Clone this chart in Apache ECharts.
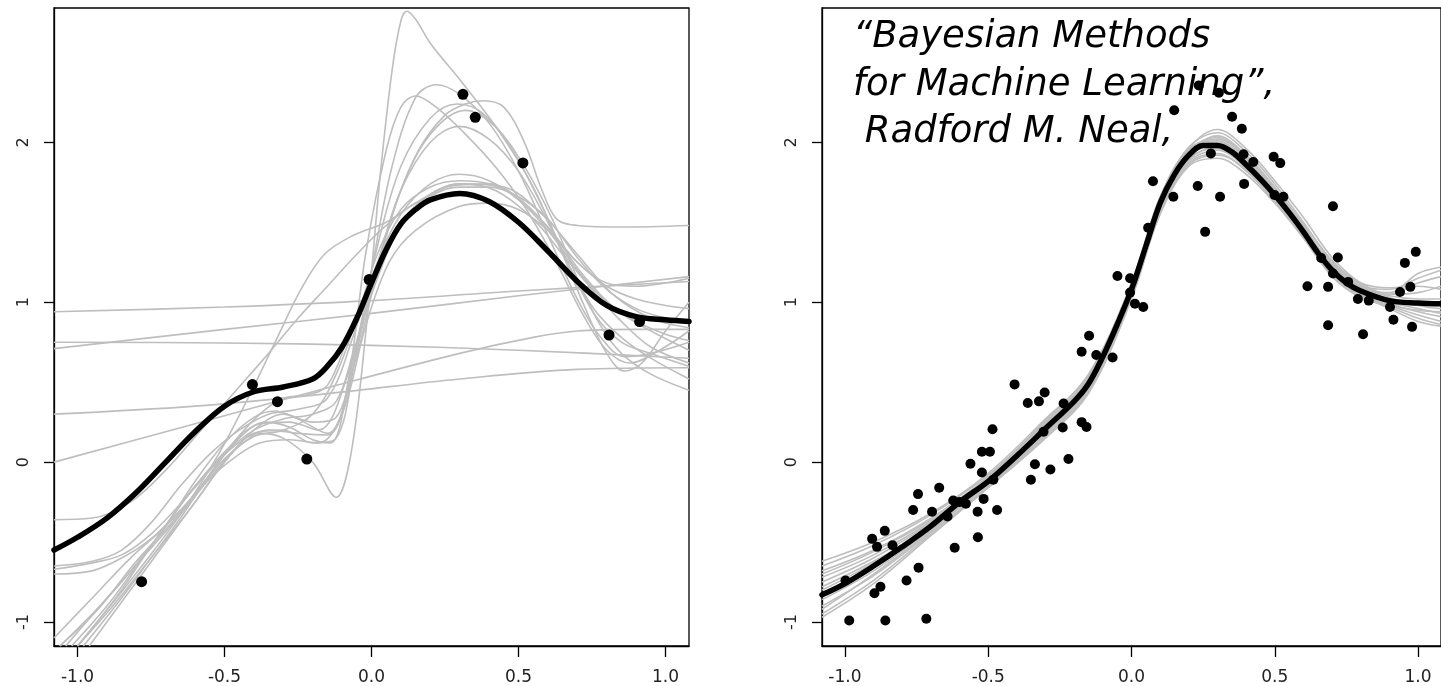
<!DOCTYPE html>
<html><head><meta charset="utf-8">
<script src="https://cdn.jsdelivr.net/npm/echarts@6.0.0/dist/echarts.min.js"></script>
<style>html,body{margin:0;padding:0;background:#fff;overflow:hidden}#c{width:1441px;height:686px}</style>
</head><body><div id="c"></div><script>
// ---------- tick labels ----------
const xTicks = [-1, -0.5, 0, 0.5, 1];
const yTicks = [-1, 0, 1, 2];

// ---------- left panel: data points ----------
const leftPoints = [[-0.782,-0.748],[-0.405,0.485],[-0.320,0.378],[-0.220,0.019],[-0.008,1.142],
  [0.311,2.30],[0.353,2.156],[0.515,1.871],[0.808,0.795],[0.912,0.879]];

// left panel: posterior mean (thick black)
const leftMean = [[-1.08,-0.55],[-1.0,-0.47],[-0.9,-0.35],[-0.8,-0.19],[-0.7,0.0],[-0.6,0.19],[-0.5,0.35],
  [-0.4,0.44],[-0.3,0.47],[-0.2,0.52],[-0.15,0.6],[-0.1,0.72],[-0.05,0.9],[0.0,1.12],[0.05,1.33],[0.1,1.49],
  [0.15,1.58],[0.2,1.64],[0.3,1.68],[0.4,1.63],[0.5,1.5],[0.6,1.32],[0.7,1.13],[0.8,0.98],[0.9,0.91],[1.0,0.89],[1.08,0.88]];

// left panel: posterior sample functions (grey)
const lS1 = [[-1.08,0.94],[-0.5,0.97],[0,1.01],[0.5,1.07],[1.08,1.13]];
const lS2 = [[-1.08,0.71],[-0.5,0.83],[0,0.93],[0.5,1.04],[1.08,1.16]];
const lS3 = [[-1.08,0.75],[-0.5,0.745],[0,0.73],[0.5,0.70],[1.08,0.65]];
const lS4 = [[-1.08,0.30],[-0.6,0.35],[-0.14,0.43],[0.3,0.52],[0.7,0.58],[1.08,0.59]];
const lS5 = [[-1.08,0.0],[-0.6,0.24],[-0.14,0.47],[0.3,0.68],[0.55,0.78],[0.7,0.82],[0.9,0.83],[1.08,0.83]];
const lU1 = [[-1.02,-1.15],[-0.9,-0.9],[-0.8,-0.65],[-0.7,-0.4],[-0.6,-0.12],[-0.5,0.12],[-0.4,0.28],[-0.33,0.32],[-0.25,0.27],[-0.15,0.18],[-0.08,0.45],[0,1.2],[0.07,1.85],[0.15,2.28],[0.22,2.36],[0.3,2.3],[0.4,2.12],[0.5,1.82],[0.6,1.42],[0.7,1.02],[0.78,0.78],[0.86,0.66],[0.95,0.68],[1.08,0.75]];
const lU2 = [[-0.98,-1.15],[-0.85,-0.85],[-0.75,-0.6],[-0.65,-0.35],[-0.55,-0.08],[-0.45,0.15],[-0.36,0.25],[-0.28,0.22],[-0.2,0.14],[-0.14,0.12],[-0.08,0.5],[-0.02,1.3],[0.05,1.95],[0.1,2.22],[0.15,2.29],[0.22,2.22],[0.32,2.05],[0.42,1.85],[0.52,1.6],[0.62,1.28],[0.72,0.92],[0.8,0.7],[0.88,0.62],[0.98,0.7],[1.08,0.82]];
const lU3 = [[-1.06,-1.15],[-0.95,-0.95],[-0.85,-0.75],[-0.72,-0.45],[-0.6,-0.15],[-0.48,0.1],[-0.38,0.24],[-0.28,0.25],[-0.18,0.2],[-0.08,0.55],[0,1.1],[0.08,1.6],[0.16,1.95],[0.25,2.17],[0.32,2.24],[0.38,2.26],[0.45,2.22],[0.52,2.0],[0.58,1.7],[0.63,1.52],[0.7,1.48],[0.85,1.47],[1.08,1.48]];
const lU4 = [[-1.0,-1.15],[-0.88,-0.9],[-0.75,-0.6],[-0.62,-0.3],[-0.5,0.0],[-0.4,0.2],[-0.3,0.3],[-0.2,0.25],[-0.12,0.28],[-0.05,0.75],[0.02,1.35],[0.1,1.85],[0.2,2.15],[0.29,2.24],[0.38,2.18],[0.48,1.95],[0.58,1.6],[0.68,1.2],[0.76,0.92],[0.85,0.75],[0.95,0.68],[1.08,0.6]];
const lU5 = [[-1.04,-1.15],[-0.9,-0.85],[-0.78,-0.6],[-0.66,-0.35],[-0.55,-0.1],[-0.45,0.1],[-0.35,0.2],[-0.25,0.18],[-0.15,0.17],[-0.06,0.6],[0.02,1.2],[0.1,1.7],[0.2,2.05],[0.32,2.2],[0.42,2.1],[0.52,1.85],[0.62,1.5],[0.7,1.15],[0.78,0.85],[0.85,0.68],[0.95,0.55],[1.08,0.45]];
const lU6 = [[-0.96,-1.15],[-0.84,-0.85],[-0.72,-0.55],[-0.6,-0.25],[-0.5,0.0],[-0.4,0.18],[-0.3,0.2],[-0.2,0.12],[-0.12,0.15],[-0.05,0.7],[0.03,1.3],[0.1,1.7],[0.2,2.0],[0.3,2.1],[0.4,2.02],[0.5,1.82],[0.6,1.5],[0.68,1.2],[0.76,0.95],[0.85,0.78],[0.95,0.65],[1.08,0.52]];
const lSpike = [[-1.0,-1.15],[-0.87,-0.85],[-0.74,-0.5],[-0.6,-0.15],[-0.48,0.08],[-0.38,0.18],[-0.3,0.15],[-0.2,0.0],[-0.12,-0.22],[-0.07,0.05],[-0.02,0.8],[0.03,1.8],[0.07,2.45],[0.1,2.76],[0.12,2.82],[0.15,2.77],[0.2,2.62],[0.31,2.37],[0.43,2.08],[0.55,1.72],[0.65,1.3],[0.73,0.95],[0.8,0.68],[0.86,0.57],[0.92,0.62],[1.0,0.82],[1.08,1.0]];
const lE1 = [[-1.08,-0.36],[-0.95,-0.35],[-0.82,-0.25],[-0.7,-0.05],[-0.58,0.2],[-0.46,0.45],[-0.35,0.68],[-0.25,0.9],[-0.15,1.1],[-0.05,1.3],[0.05,1.48],[0.15,1.62],[0.3,1.74],[0.45,1.72],[0.58,1.55],[0.7,1.3],[0.82,1.05],[0.95,0.9],[1.08,0.84]];
const lE2 = [[-1.0,-1.15],[-0.88,-0.88],[-0.76,-0.6],[-0.64,-0.3],[-0.52,0.05],[-0.42,0.4],[-0.32,0.78],[-0.24,1.08],[-0.16,1.3],[-0.06,1.42],[0.05,1.5],[0.15,1.62],[0.28,1.73],[0.4,1.74],[0.52,1.62],[0.62,1.42],[0.72,1.17],[0.85,0.93],[1.08,0.7]];
const lL2 = [[-1.08,-0.65],[-0.95,-0.62],[-0.85,-0.55],[-0.75,-0.38],[-0.65,-0.15],[-0.55,0.05],[-0.45,0.2],[-0.35,0.3],[-0.25,0.33],[-0.15,0.4],[-0.06,0.8],[0.02,1.25],[0.1,1.55],[0.2,1.74],[0.3,1.8],[0.4,1.76],[0.5,1.64],[0.6,1.45],[0.7,1.2],[0.8,1.0],[0.9,0.88],[1.0,0.8],[1.08,0.76]];
const lL3 = [[-1.08,-0.67],[-0.95,-0.63],[-0.85,-0.58],[-0.75,-0.45],[-0.62,-0.2],[-0.5,0.05],[-0.4,0.2],[-0.3,0.27],[-0.2,0.3],[-0.12,0.38],[-0.06,0.7],[0.02,1.15],[0.1,1.48],[0.2,1.66],[0.3,1.72],[0.4,1.72],[0.5,1.66],[0.6,1.52],[0.7,1.28],[0.8,1.08],[0.9,0.96],[1.0,0.9],[1.08,0.87]];
const lL4 = [[-1.08,-0.70],[-0.95,-0.68],[-0.85,-0.6],[-0.75,-0.48],[-0.65,-0.3],[-0.55,-0.1],[-0.45,0.05],[-0.38,0.12],[-0.28,0.14],[-0.18,0.12],[-0.1,0.3],[-0.02,0.85],[0.06,1.25],[0.15,1.45],[0.3,1.6],[0.4,1.62],[0.5,1.58],[0.6,1.45],[0.7,1.25],[0.8,1.1],[0.9,1.02],[1.0,0.98],[1.08,0.96]];
const lL5 = [[-1.08,-1.1],[-0.95,-0.85],[-0.82,-0.6],[-0.7,-0.4],[-0.6,-0.2],[-0.5,0.02],[-0.4,0.16],[-0.3,0.2],[-0.2,0.3],[-0.12,0.55],[-0.05,0.9],[0.02,1.3],[0.1,1.58],[0.2,1.72],[0.3,1.76],[0.4,1.74],[0.5,1.65],[0.6,1.47],[0.7,1.25],[0.8,1.12],[0.9,1.1],[1.0,1.12],[1.08,1.15]];
const lL6 = [[-1.06,-1.15],[-0.93,-0.92],[-0.8,-0.62],[-0.68,-0.38],[-0.58,-0.15],[-0.48,0.1],[-0.38,0.3],[-0.3,0.4],[-0.22,0.42],[-0.15,0.48],[-0.08,0.78],[0.0,1.15],[0.08,1.45],[0.18,1.65],[0.3,1.74],[0.42,1.7],[0.55,1.52],[0.65,1.3],[0.75,1.08],[0.85,0.88],[0.95,0.72],[1.08,0.62]];
const leftSamples = [lS1,lS2,lS3,lS4,lS5,lU1,lU2,lU3,lU4,lU5,lU6,lSpike,lE1,lE2,lL2,lL3,lL4,lL5,lL6];

// ---------- right panel ----------
const rightPoints = [
  [-0.985,-0.99],[-0.859,-0.99],[-0.716,-0.98],[-0.998,-0.74],[-0.897,-0.82],[-0.876,-0.78],[-0.785,-0.74],[-0.743,-0.66],
  [-0.905,-0.48],[-0.888,-0.53],[-0.861,-0.43],[-0.834,-0.52],[-0.762,-0.30],[-0.745,-0.20],[-0.696,-0.31],[-0.671,-0.16],
  [-0.617,-0.535],[-0.622,-0.24],[-0.600,-0.25],[-0.578,-0.26],[-0.642,-0.34],[-0.536,-0.47],[-0.537,-0.31],[-0.469,-0.30],
  [-0.516,-0.23],[-0.562,-0.01],[-0.522,0.065],[-0.494,0.065],[-0.522,-0.065],[-0.482,-0.11],[-0.485,0.206],
  [-0.408,0.486],[-0.362,0.37],[-0.323,0.38],[-0.303,0.435],[-0.337,-0.013],[-0.351,-0.11],[-0.283,-0.046],[-0.307,0.19],
  [-0.24,0.217],[-0.237,0.367],[-0.22,0.02],[-0.174,0.25],[-0.157,0.22],[-0.174,0.69],[-0.148,0.79],[-0.123,0.67],[-0.066,0.654],
  [-0.049,1.164],[-0.005,1.15],[-0.005,1.06],[0.012,0.99],[0.041,0.97],[0.058,1.466],[0.075,1.756],[0.146,1.66],[0.149,2.2],
  [0.231,1.727],[0.257,1.44],[0.235,2.356],[0.305,2.31],[0.277,1.93],[0.309,1.66],[0.351,2.16],[0.385,2.085],[0.391,1.925],
  [0.393,1.74],[0.425,1.877],[0.496,1.91],[0.519,1.87],[0.499,1.67],[0.53,1.66],[0.703,1.6],[0.614,1.10],[0.686,1.096],
  [0.686,0.856],[0.662,1.277],[0.72,1.28],[0.703,1.18],[0.756,1.127],[0.79,1.02],[0.828,1.01],[0.808,0.80],[0.902,0.97],
  [0.914,0.89],[0.937,1.064],[0.954,1.246],[0.973,1.096],[0.992,1.315],[0.979,0.846]];

const rightMean = [[-1.08,-0.83],[-1.0,-0.76],[-0.9,-0.65],[-0.8,-0.53],[-0.7,-0.40],[-0.6,-0.25],[-0.5,-0.12],[-0.4,0.04],
  [-0.3,0.21],[-0.2,0.38],[-0.15,0.49],[-0.1,0.66],[-0.05,0.86],[0,1.08],[0.05,1.35],[0.1,1.62],[0.15,1.80],[0.2,1.92],
  [0.25,1.98],[0.3,1.98],[0.35,1.94],[0.4,1.86],[0.45,1.77],[0.5,1.67],[0.55,1.56],[0.6,1.44],[0.65,1.31],[0.7,1.20],
  [0.75,1.12],[0.8,1.07],[0.9,1.01],[1.0,0.995],[1.08,0.99]];

const rightSampleX = [-1.08,-0.9,-0.7,-0.5,-0.3,-0.15,0,0.1,0.2,0.3,0.4,0.5,0.6,0.7,0.8,0.9,1.0,1.08];
const r1  = [-0.65,-0.52,-0.33,-0.08,0.24,0.52,1.10,1.65,1.97,2.06,1.94,1.74,1.50,1.25,1.10,1.04,1.02,1.02];
const r2  = [-0.70,-0.56,-0.36,-0.10,0.23,0.50,1.07,1.60,1.93,2.04,1.92,1.72,1.48,1.22,1.08,1.05,1.12,1.16];
const r3  = [-0.75,-0.60,-0.38,-0.11,0.22,0.51,1.09,1.63,1.95,2.02,1.90,1.70,1.46,1.23,1.10,1.08,1.15,1.20];
const r4  = [-0.80,-0.63,-0.39,-0.13,0.19,0.47,1.05,1.58,1.88,1.95,1.84,1.66,1.44,1.20,1.07,1.00,0.96,0.93];
const r5  = [-0.86,-0.68,-0.42,-0.14,0.18,0.46,1.06,1.60,1.90,1.96,1.85,1.65,1.42,1.18,1.05,0.98,0.92,0.88];
const r6  = [-0.90,-0.71,-0.44,-0.15,0.17,0.45,1.04,1.57,1.87,1.93,1.82,1.63,1.41,1.17,1.04,0.97,0.90,0.86];
const r7  = [-0.95,-0.74,-0.45,-0.16,0.16,0.44,1.03,1.55,1.85,1.90,1.80,1.62,1.40,1.16,1.03,0.98,0.95,0.94];
const r8  = [-0.72,-0.58,-0.37,-0.09,0.26,0.55,1.12,1.66,1.96,2.01,1.88,1.68,1.45,1.22,1.09,1.06,1.18,1.22];
const r9  = [-0.78,-0.62,-0.41,-0.12,0.20,0.48,1.08,1.62,1.94,2.00,1.89,1.69,1.47,1.24,1.12,1.09,1.10,1.08];
const r10 = [-0.84,-0.66,-0.40,-0.11,0.22,0.50,1.07,1.61,1.91,1.99,1.88,1.70,1.49,1.26,1.11,1.03,0.98,0.96];
const r11 = [-0.92,-0.70,-0.43,-0.13,0.19,0.48,1.06,1.59,1.89,1.97,1.87,1.68,1.45,1.21,1.06,0.99,0.94,0.91];
const r12 = [-0.68,-0.55,-0.35,-0.09,0.25,0.53,1.10,1.64,1.95,2.03,1.91,1.71,1.47,1.23,1.09,1.02,1.00,1.00];
const r13 = [-0.97,-0.76,-0.46,-0.16,0.15,0.43,1.02,1.56,1.86,1.92,1.83,1.64,1.43,1.19,1.05,0.96,0.88,0.85];
const r14 = [-0.62,-0.50,-0.32,-0.07,0.27,0.54,1.11,1.64,1.96,2.08,1.96,1.76,1.53,1.28,1.12,1.05,1.06,1.10];
const rightSamples = [r1,r2,r3,r4,r5,r6,r7,r8,r9,r10,r11,r12,r13,r14];

const annotationLines = ['\u201CBayesian Methods', 'for Machine Learning\u201D,', ' Radford M. Neal,'];

// ---------- build ----------
const GREY = '#bebebe';
function greyLine(data, idx) {
  return {type:'line', xAxisIndex:idx, yAxisIndex:idx, data:data, symbol:'none', showSymbol:false,
    smooth:0.35, clip:true, silent:true, z:2, lineStyle:{color:GREY, width:1.6}};
}
function meanLine(data, idx) {
  return {type:'line', xAxisIndex:idx, yAxisIndex:idx, data:data, symbol:'none', showSymbol:false,
    smooth:0.35, clip:true, silent:true, z:3, lineStyle:{color:'#000', width:5.5, cap:'round'}};
}
function pts(data, idx, size) {
  return {type:'scatter', xAxisIndex:idx, yAxisIndex:idx, data:data, symbol:'circle', symbolSize:size,
    silent:true, z:4, itemStyle:{color:'#000', opacity:1}};
}
const series = [];
leftSamples.forEach(s => series.push(greyLine(s, 0)));
series.push(meanLine(leftMean, 0));
series.push(pts(leftPoints, 0, 11));
rightSamples.forEach(s => series.push(greyLine(rightSampleX.map((x, i) => [x, s[i]]), 1)));
series.push(meanLine(rightMean, 1));
series.push(pts(rightPoints, 1, 10));

function xAx(gi) {
  return {type:'value', gridIndex:gi, min:-1.08, max:1.08, position:'bottom',
    axisLine:{show:true, onZero:false, lineStyle:{color:'#000', width:1.3}},
    axisTick:{show:true, inside:false, length:11, customValues:xTicks, lineStyle:{color:'#000', width:1.3}},
    axisLabel:{show:true, customValues:xTicks, formatter:v => Number(v).toFixed(1), margin:23,
      fontFamily:'DejaVu Sans', fontSize:17, color:'#222'},
    splitLine:{show:false}};
}
function yAx(gi) {
  return {type:'value', gridIndex:gi, min:-1.15, max:2.84, position:'left',
    axisLine:{show:true, onZero:false, lineStyle:{color:'#000', width:1.3}},
    axisTick:{show:true, inside:false, length:10, customValues:yTicks, lineStyle:{color:'#000', width:1.3}},
    axisLabel:{show:true, customValues:yTicks, formatter:v => String(v), rotate:90, margin:22,
      fontFamily:'DejaVu Sans', fontSize:16, color:'#222'},
    splitLine:{show:false}};
}

const graphics = annotationLines.map((t, i) => ({
  type:'text', z:100, x: 853, y: 19 + i * 47.5,
  style:{text:t, font:'italic 37px "DejaVu Sans"', fill:'#000', textAlign:'left', textVerticalAlign:'top'}
}));

const chart = echarts.init(document.getElementById('c'), null, {renderer:'canvas'});
chart.setOption({
  animation:false,
  backgroundColor:'#fff',
  grid:[
    {left:54, top:8, width:635, height:638, show:true, borderColor:'#000', borderWidth:1.3, backgroundColor:'transparent'},
    {left:822, top:8, width:631, height:638, show:true, borderColor:'#000', borderWidth:1.3, backgroundColor:'transparent'}
  ],
  xAxis:[xAx(0), xAx(1)],
  yAxis:[yAx(0), yAx(1)],
  series:series,
  graphic:graphics
});
</script></body></html>
